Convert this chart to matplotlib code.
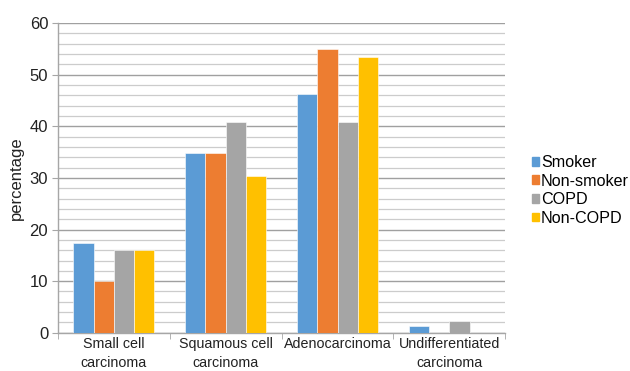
import matplotlib
matplotlib.use("Agg")
import matplotlib.pyplot as plt
import numpy as np
from matplotlib.patches import Patch

plt.rcParams["font.family"] = ["Liberation Sans", "DejaVu Sans"]

CATEGORIES = ["Small cell\ncarcinoma", "Squamous cell\ncarcinoma", "Adenocarcinoma", "Undifferentiated\ncarcinoma"]
SERIES = ["Smoker", "Non-smoker", "COPD", "Non-COPD"]
SMOKER = [17.4, 34.9, 46.2, 1.3]
NON_SMOKER = [10.0, 34.9, 54.9, 0.0]
COPD = [16.0, 40.8, 40.8, 2.3]
NON_COPD = [16.1, 30.4, 53.5, 0.0]

COLORS = ["#5B9BD5", "#ED7D31", "#A5A5A5", "#FFC000"]

fig = plt.figure(figsize=(6.3, 3.71), dpi=100)
ax = fig.add_axes([0.092, 0.103, 0.71, 0.835])

x = np.arange(len(CATEGORIES))
width = 0.181
for i, vals in enumerate([SMOKER, NON_SMOKER, COPD, NON_COPD]):
    ax.bar(x + (i - 1.5) * width, vals, width, color=COLORS[i], label=SERIES[i],
           edgecolor="white", linewidth=0.4, zorder=3)

ax.set_xlim(-0.5, len(CATEGORIES) - 0.5)
ax.set_ylim(0, 60)
ax.set_yticks(range(0, 61, 10))
ax.set_yticks(range(0, 61, 2), minor=True)
ax.grid(axis="y", which="minor", color="#cccccc", linewidth=0.9, zorder=0)
ax.grid(axis="y", which="major", color="#a0a0a0", linewidth=1.0, zorder=0)

ax.set_xticks(x)
ax.set_xticklabels(CATEGORIES, fontsize=10.3, color="#222222", linespacing=1.45)
ax.set_xticks(np.arange(-0.5, len(CATEGORIES)), minor=True)
ax.tick_params(axis="x", which="major", length=0, pad=3)
ax.tick_params(axis="x", which="minor", length=4, color="#a6a6a6")
ax.tick_params(axis="y", which="major", length=4, color="#a6a6a6", labelsize=12, labelcolor="#222222", pad=3)
ax.tick_params(axis="y", which="minor", length=0)

for side in ["top", "right"]:
    ax.spines[side].set_visible(False)
for side in ["left", "bottom"]:
    ax.spines[side].set_color("#a6a6a6")
    ax.spines[side].set_linewidth(1.0)

ax.set_ylabel("percentage", fontsize=12, color="#222222", labelpad=4)

handles = [Patch(color=c) for c in COLORS]
ax.legend(handles, SERIES, loc="center left", bbox_to_anchor=(1.045, 0.46),
          frameon=False, fontsize=11.6, handlelength=0.45, handleheight=0.45,
          handletextpad=0.12, labelspacing=0.22, borderaxespad=0)

fig.savefig("out.png", dpi=100)
